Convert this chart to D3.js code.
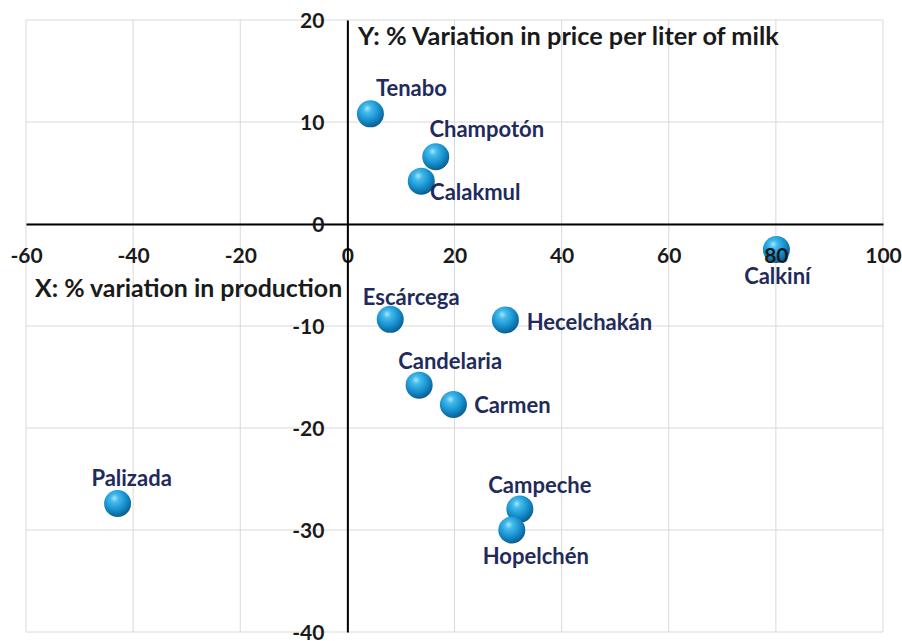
<!DOCTYPE html>
<html>
<head>
<meta charset="utf-8">
<script src="https://cdn.jsdelivr.net/npm/d3@7/dist/d3.min.js"></script>
<style>
  html, body { margin: 0; padding: 0; background: #fff; }
  svg { display: block; }
  text { font-family: Lato, "Open Sans", sans-serif; font-weight: 700; }
</style>
</head>
<body>
<svg id="chart" width="902" height="641"></svg>
<script>
// ---- data ----
const municipalities = ["Tenabo","Champotón","Calakmul","Calkiní","Escárcega","Hecelchakán","Candelaria","Carmen","Palizada","Campeche","Hopelchén"];
const productionVariation = [4.3, 16.5, 13.8, 80.1, 8.0, 29.5, 13.4, 19.8, -42.9, 32.2, 30.7];
const priceVariation = [10.8, 6.6, 4.2, -2.5, -9.35, -9.4, -15.8, -17.7, -27.4, -27.95, -30.0];
const xTicks = [-60, -40, -20, 0, 20, 40, 60, 80, 100];
const yTicks = [-40, -30, -20, -10, 0, 10, 20];
const xTitle = "X: % variation in production";
const yTitle = "Y: % Variation in price per liter of milk";

// ---- layout (label placement relative to each point) ----
const labelOffset = {
  "Tenabo": [41, -26], "Champotón": [51, -27], "Calakmul": [54, 11],
  "Calkiní": [1, 27], "Escárcega": [21, -22], "Hecelchakán": [84, 2],
  "Candelaria": [31, -24], "Carmen": [59, 1], "Palizada": [14, -25],
  "Campeche": [20, -24], "Hopelchén": [24, 26]
};

const svg = d3.select("#chart");
const x = d3.scaleLinear().domain([-60, 100]).range([26, 883]);
const y = d3.scaleLinear().domain([-40, 20]).range([632, 20]);
const fmt = d => String(d);

// gradient for spheres
const defs = svg.append("defs");
const g = defs.append("radialGradient").attr("id", "sphere")
  .attr("cx", "42%").attr("cy", "36%").attr("r", "66%").attr("fx", "38%").attr("fy", "30%");
g.append("stop").attr("offset", "0%").attr("stop-color", "#a8e6fc");
g.append("stop").attr("offset", "22%").attr("stop-color", "#45bbec");
g.append("stop").attr("offset", "62%").attr("stop-color", "#1690cf");
g.append("stop").attr("offset", "100%").attr("stop-color", "#0a5b8c");

// gridlines
svg.append("g").selectAll("line").data(xTicks).join("line")
  .attr("x1", d => x(d)).attr("x2", d => x(d))
  .attr("y1", y(20)).attr("y2", y(-40))
  .attr("stroke", "#d9d9d9").attr("stroke-width", 1);
svg.append("g").selectAll("line").data(yTicks).join("line")
  .attr("x1", x(-60)).attr("x2", x(100))
  .attr("y1", d => y(d)).attr("y2", d => y(d))
  .attr("stroke", "#d9d9d9").attr("stroke-width", 1);

// axes lines via d3 axes (no ticks)
const xAxis = svg.append("g").attr("transform", `translate(0,${y(0)})`)
  .call(d3.axisBottom(x).tickValues(xTicks).tickSize(0).tickFormat(fmt));
xAxis.select(".domain").attr("stroke", "#000").attr("stroke-width", 2);
const yAxis = svg.append("g").attr("transform", `translate(${x(0)},0)`)
  .call(d3.axisLeft(y).tickValues(yTicks).tickSize(0).tickFormat(fmt));
yAxis.select(".domain").attr("stroke", "#000").attr("stroke-width", 2);

// axis titles
svg.append("text").attr("x", 358).attr("y", 45)
  .attr("font-size", 25.3).attr("fill", "#1a1a1a").text(yTitle);
svg.append("text").attr("x", 35).attr("y", 297)
  .attr("font-size", 24.9).attr("fill", "#1a1a1a").text(xTitle);

// points
const pts = municipalities.map((m, i) => ({ name: m, px: productionVariation[i], py: priceVariation[i] }));
svg.append("g").selectAll("circle").data(pts).join("circle")
  .attr("cx", d => x(d.px)).attr("cy", d => y(d.py)).attr("r", 13.5)
  .attr("fill", "url(#sphere)");

svg.append("g").selectAll("text").data(pts).join("text")
  .attr("x", d => x(d.px) + labelOffset[d.name][0])
  .attr("y", d => y(d.py) + labelOffset[d.name][1])
  .attr("dy", "0.35em").attr("text-anchor", "middle")
  .attr("font-size", 22).attr("fill", "#1f2b5b").text(d => d.name);

// tick labels on top
xAxis.raise(); yAxis.raise();
xAxis.selectAll(".tick text").attr("y", 32).attr("dy", "0.35em")
  .attr("font-size", 21).attr("fill", "#1a1a1a")
  .attr("font-family", "Lato, sans-serif").attr("font-weight", 700);
yAxis.selectAll(".tick text").attr("x", -23).attr("dy", "0.35em")
  .attr("font-size", 21).attr("fill", "#1a1a1a")
  .attr("font-family", "Lato, sans-serif").attr("font-weight", 700);
</script>
</body>
</html>
